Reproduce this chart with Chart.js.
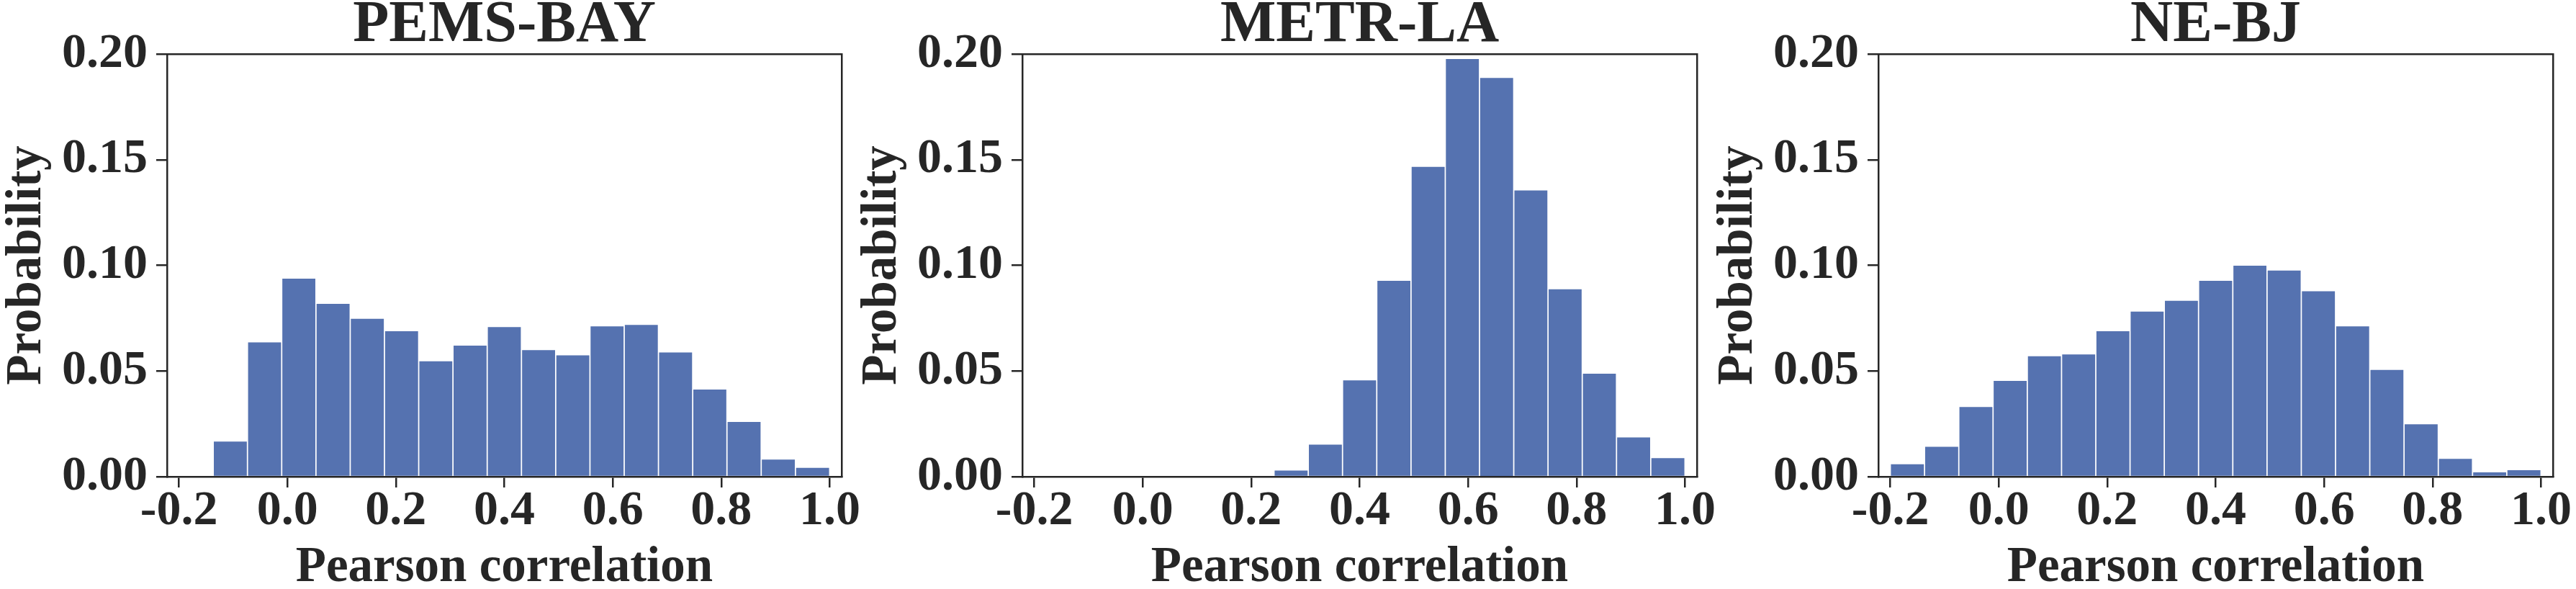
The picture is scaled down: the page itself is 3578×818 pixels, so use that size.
<!DOCTYPE html>
<html>
<head>
<meta charset="utf-8">
<script src="https://cdn.jsdelivr.net/npm/chart.js@4.4.1/dist/chart.umd.min.js"></script>
<style>
  html, body { margin: 0; padding: 0; background: #ffffff; width: 3578px; height: 818px; overflow: hidden; }
  .panel { position: absolute; top: 0; }
  canvas { display: block; }
</style>
</head>
<body>
<div class="panel" id="p0"><canvas id="c0" width="1280" height="818"></canvas></div>
<div class="panel" id="p1"><canvas id="c1" width="1280" height="818"></canvas></div>
<div class="panel" id="p2"><canvas id="c2" width="1201" height="818"></canvas></div>
<script>
// ---- data ----
const binCenters = [-0.16842, -0.10526, -0.04211, 0.02105, 0.08421, 0.14737, 0.21053,
                    0.27368, 0.33684, 0.40000, 0.46316, 0.52632, 0.58947, 0.65263,
                    0.71579, 0.77895, 0.84211, 0.90526, 0.96842];
const xTicks = [-0.2, 0.0, 0.2, 0.4, 0.6, 0.8, 1.0];
const yTicks = [0.00, 0.05, 0.10, 0.15, 0.20];
const panelTitles = ['PEMS-BAY', 'METR-LA', 'NE-BJ'];
const pemsBay = [0.0, 0.0169, 0.0638, 0.0940, 0.0821, 0.0750, 0.0691, 0.0549, 0.0623, 0.0711,
                 0.0602, 0.0577, 0.0714, 0.0721, 0.0591, 0.0415, 0.0262, 0.0084, 0.0045];
const metrLa = [0.0, 0.0, 0.0, 0.0, 0.0, 0.0, 0.0, 0.0032, 0.0155, 0.0459,
                0.0930, 0.1469, 0.1979, 0.1890, 0.1357, 0.0890, 0.0490, 0.0189, 0.0091];
const neBj = [0.0062, 0.0144, 0.0333, 0.0456, 0.0573, 0.0581, 0.0691, 0.0784, 0.0835, 0.0930,
              0.1001, 0.0978, 0.0880, 0.0714, 0.0508, 0.0251, 0.0087, 0.0023, 0.0034];
const xTitle = 'Pearson correlation';
const yTitle = 'Probability';

// ---- style ----
const INK = '#262626';
const BAR = '#5572b0';
const FONT = 'Liberation Serif';
const panelLefts = [0, 1188, 2377];

Chart.defaults.font.family = FONT;
Chart.defaults.font.weight = 'bold';
Chart.defaults.color = INK;

function zeroPad(s) { s.paddingLeft = 0; s.paddingRight = 0; s.paddingTop = 0; s.paddingBottom = 0; }

function makeChart(idx, title, values) {
  document.getElementById('p' + idx).style.left = panelLefts[idx] + 'px';
  const canvas = document.getElementById('c' + idx);
  const rightPad = canvas.width - 1169;
  return new Chart(canvas, {
    type: 'bar',
    data: {
      datasets: [{
        data: binCenters.map((c, i) => ({ x: c, y: values[i] })),
        xAxisID: 'x', yAxisID: 'y',
        backgroundColor: BAR, borderColor: '#ffffff', borderWidth: 1.2,
        barPercentage: 1.0, categoryPercentage: 1.0
      }]
    },
    options: {
      responsive: false, devicePixelRatio: 1, animation: false, events: [],
      layout: { padding: { left: 0, right: rightPad, top: 0, bottom: 0 } },
      plugins: { legend: { display: false }, tooltip: { enabled: false }, title: { display: false } },
      scales: {
        x: {
          type: 'linear', position: 'bottom', min: -0.222, max: 1.022, offset: false, z: 1,
          grid: { display: true, drawOnChartArea: false, drawTicks: true, tickLength: 15,
                  tickWidth: 2.5, tickColor: INK, lineWidth: 2.5, color: INK, offset: false },
          border: { display: true, color: INK, width: 2.5 },
          ticks: { autoSkip: false, maxRotation: 0, minRotation: 0, padding: -1, color: INK,
                   font: { family: FONT, size: 68, weight: 'bold', lineHeight: 1 },
                   callback: (v) => Number(v).toFixed(1) },
          afterBuildTicks: (s) => { s.ticks = xTicks.map(v => ({ value: v })); },
          title: { display: true, text: xTitle, color: INK,
                   font: { family: FONT, size: 69, weight: 'bold', lineHeight: 0.8 },
                   padding: { top: 1, bottom: 1 } },
          afterFit: (s) => { s.height = 156; zeroPad(s); }
        },
        xTop: {
          type: 'linear', position: 'top', min: -0.222, max: 1.022, display: true, z: 1,
          grid: { display: false }, ticks: { display: false },
          border: { display: true, color: INK, width: 2.5 },
          title: { display: true, text: title, color: INK,
                   font: { family: FONT, size: 82, weight: 'bold', lineHeight: 0.88 },
                   padding: { top: 0, bottom: 0 } },
          afterFit: (s) => { s.height = 75; zeroPad(s); }
        },
        y: {
          type: 'linear', position: 'left', min: 0, max: 0.2, z: 1,
          grid: { display: true, drawOnChartArea: false, drawTicks: true, tickLength: 15,
                  tickWidth: 2.5, tickColor: INK, lineWidth: 2.5, color: INK },
          border: { display: true, color: INK, width: 2.5 },
          ticks: { padding: 12, color: INK, font: { family: FONT, size: 68, weight: 'bold', lineHeight: 1 },
                   callback: (v) => Number(v).toFixed(2) },
          afterBuildTicks: (s) => { s.ticks = yTicks.map(v => ({ value: v })); },
          title: { display: true, text: yTitle, color: INK,
                   font: { family: FONT, size: 69, weight: 'bold', lineHeight: 1 },
                   padding: { top: 4, bottom: 4 } },
          afterFit: (s) => { s.width = 232; zeroPad(s); }
        },
        yRight: {
          type: 'linear', position: 'right', min: 0, max: 0.2, display: true, z: 1,
          grid: { display: false }, ticks: { display: false },
          border: { display: true, color: INK, width: 2.5 },
          afterFit: (s) => { s.width = 0; zeroPad(s); }
        }
      }
    }
  });
}

makeChart(0, panelTitles[0], pemsBay);
makeChart(1, panelTitles[1], metrLa);
makeChart(2, panelTitles[2], neBj);
</script>
</body>
</html>
